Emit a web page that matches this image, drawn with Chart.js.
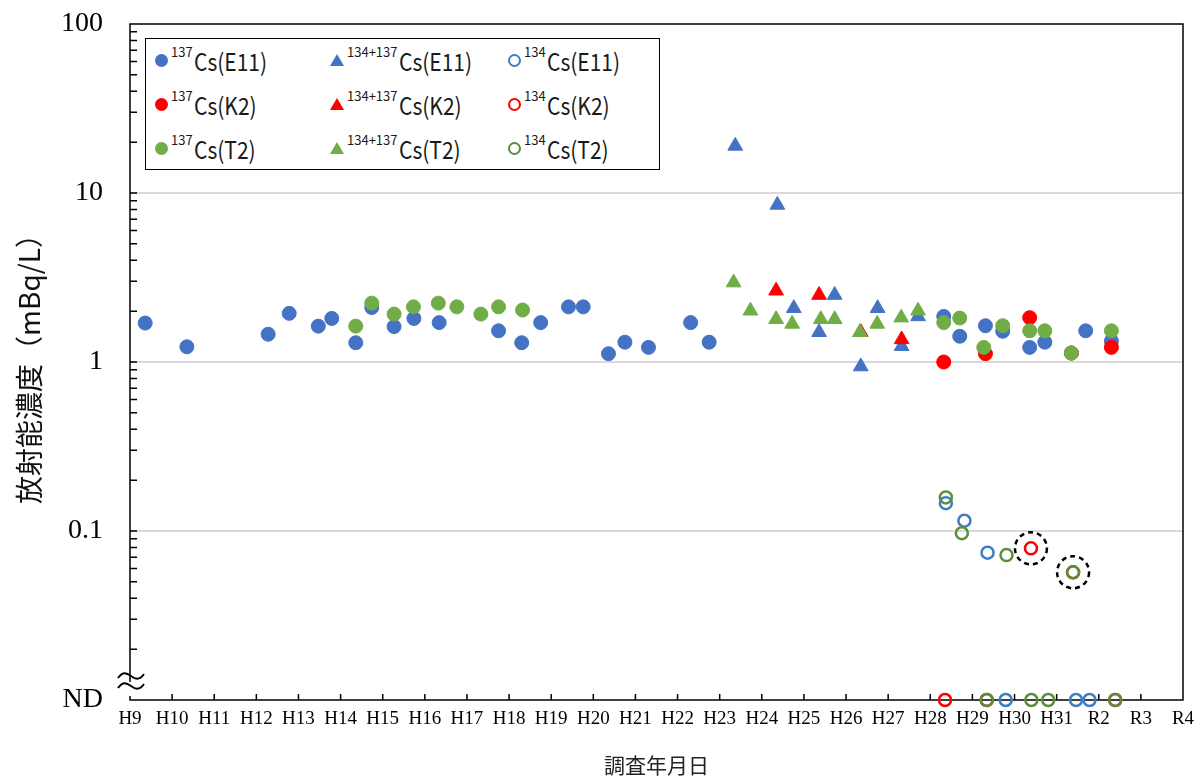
<!DOCTYPE html>
<html>
<head>
<meta charset="utf-8">
<script src="https://cdn.jsdelivr.net/npm/chart.js@4/dist/chart.umd.min.js"></script>
<style>
body{margin:0;background:#fff}
#wrap{position:relative;width:1203px;height:783px}
#lg{position:absolute;left:145px;top:38px;width:515px;height:132px;border:1.5px solid #000;background:#fff;box-sizing:border-box}
.it{position:absolute;height:26px;display:flex;align-items:center;font:21px 'Noto Sans CJK JP';color:#1a1a1a;white-space:nowrap}
.it .sp{font-size:13px;position:relative;top:-9px;margin:0 1px 0 3px}
.it .tx{display:inline-block;font-size:24px;transform:scaleX(.875);transform-origin:left center}
.dot{width:13px;height:13px;border-radius:50%}
.tri{width:0;height:0;border-left:7px solid transparent;border-right:7px solid transparent;border-bottom:12px solid}
.ring{width:9px;height:9px;border-radius:50%;border:2.5px solid}
</style>
</head>
<body>
<div id="wrap">
  <canvas id="c" width="1203" height="783"></canvas>
  <div id="lg"></div>
</div>
<script>
const ND = 0.01;   // 検出下限未満はこの位置に描く
const years = ['H9','H10','H11','H12','H13','H14','H15','H16','H17','H18','H19','H20',
  'H21','H22','H23','H24','H25','H26','H27','H28','H29','H30','H31','R2','R3','R4'];

// [年度位置, mBq/L]
const cs137E11 = [[0.36,1.70],[1.35,1.23],[3.28,1.46],[3.78,1.94],[4.47,1.63],[4.79,1.81],[5.36,1.30],
  [5.74,2.10],[6.27,1.62],[6.74,1.81],[7.34,1.71],[8.75,1.53],[9.30,1.30],[9.75,1.71],[10.41,2.12],
  [10.76,2.12],[11.36,1.12],[11.75,1.31],[12.31,1.22],[13.31,1.71],[13.75,1.31],[19.32,1.86],
  [19.70,1.42],[20.31,1.64],[20.72,1.52],[21.36,1.22],[21.72,1.31],[22.35,1.13],[22.69,1.53],[23.30,1.33]];
const cs137K2 = [[19.32,1.00],[20.31,1.12],[21.36,1.83],[22.35,1.13],[23.30,1.22]];
const cs137T2 = [[5.36,1.63],[5.74,2.23],[6.27,1.92],[6.73,2.12],[7.32,2.23],[7.76,2.12],[8.33,1.92],
  [8.75,2.12],[9.32,2.03],[19.32,1.71],[19.70,1.82],[20.27,1.22],[20.72,1.64],[21.36,1.53],[21.72,1.53],
  [22.35,1.13],[23.30,1.53]];
const sumE11 = [[14.37,19.0],[15.37,8.5],[15.76,2.08],[16.36,1.50],[16.73,2.49],[17.35,0.94],[17.75,2.08],
  [18.32,1.24],[18.71,1.86]];
const sumK2 = [[15.34,2.64],[16.36,2.49],[17.35,1.50],[18.32,1.36]];
const sumT2 = [[14.33,2.95],[14.73,2.01],[15.34,1.79],[15.72,1.68],[16.40,1.79],[16.73,1.79],[17.33,1.50],
  [17.74,1.68],[18.31,1.83],[18.71,2.01]];
const cs134E11 = [[19.37,0.146],[19.81,0.115],[20.36,0.0744],[20.79,ND],[22.46,ND],[22.78,ND]];
const cs134K2 = [[19.35,ND],[20.34,ND],[21.39,0.079],[22.39,0.057],[23.39,ND]];
const cs134T2 = [[19.37,0.158],[19.75,0.097],[20.34,ND],[20.81,0.072],[21.40,ND],[21.80,ND],[22.39,0.057],[23.39,ND]];
const circled = [[21.39,0.079],[22.39,0.057]];

const yLabels = [0.01,0.1,1,10,100];

const BLUE='#4472C4', RED='#FF0000', GREEN='#70AD47';
const BLUE_R='#3F7DC5', GREEN_R='#5A8F3A';

const pts = a => a.map(p => ({x:p[0], y:p[1]}));
const dot = (label,data,col,order) => ({label, data:pts(data), pointStyle:'circle', pointRadius:7,
  backgroundColor:col, borderColor:col, borderWidth:1, order, clip:false});
const tri = (label,data,col,order) => ({label, data:pts(data), pointStyle:'triangle', pointRadius:8.5,
  backgroundColor:col, borderColor:col, borderWidth:1, order, clip:false});
const ring = (label,data,col,order) => ({label, data:pts(data), pointStyle:'circle', pointRadius:6,
  backgroundColor:'rgba(0,0,0,0)', borderColor:col, borderWidth:2.5, order, clip:false});

const frame = {
  id:'frame',
  beforeDatasetsDraw(chart){
    const {ctx, chartArea:a, scales:{x,y}} = chart;
    ctx.save();
    ctx.strokeStyle='#000'; ctx.lineWidth=1.5;
    ctx.beginPath();
    ctx.moveTo(a.left, a.bottom-18); ctx.lineTo(a.left, a.top); ctx.lineTo(a.right, a.top);
    ctx.lineTo(a.right, a.bottom); ctx.lineTo(a.left, a.bottom); ctx.lineTo(a.left, a.bottom-4);
    // y ticks (inside)
    for (let e=-2; e<2; e++) for (let m=1; m<10; m++) {
      const v = m*Math.pow(10,e);
      if (v===ND) continue;
      const py = y.getPixelForValue(v);
      ctx.moveTo(a.left, py); ctx.lineTo(a.left+7, py);
    }
    for (let i=1; i<years.length-1; i++) {
      const px = x.getPixelForValue(i);
      ctx.moveTo(px, a.bottom); ctx.lineTo(px, a.bottom-6);
    }
    ctx.stroke();
    // 波線（軸の省略）
    ctx.lineWidth=2;
    [a.bottom-24, a.bottom-14].forEach(yy => {
      const x0 = a.left-12;
      ctx.beginPath();
      ctx.moveTo(x0, yy+2);
      ctx.bezierCurveTo(x0+5, yy-5, x0+9, yy-3, x0+13, yy);
      ctx.bezierCurveTo(x0+17, yy+3, x0+21, yy+5, x0+26, yy-2);
      ctx.stroke();
    });
    ctx.restore();
  },
  afterDatasetsDraw(chart){
    const {ctx, scales:{x,y}} = chart;
    ctx.save();
    ctx.strokeStyle='#000'; ctx.lineWidth=2.5; ctx.setLineDash([5,4]);
    circled.forEach(p => {
      ctx.beginPath();
      ctx.arc(x.getPixelForValue(p[0]), y.getPixelForValue(p[1]), 16, 0, Math.PI*2);
      ctx.stroke();
    });
    ctx.restore();
  }
};

new Chart(document.getElementById('c'), {
  type:'scatter',
  data:{ datasets:[
    dot('137Cs(E11)', cs137E11, BLUE, 3),
    dot('137Cs(K2)', cs137K2, RED, 2),
    dot('137Cs(T2)', cs137T2, GREEN, 1),
    tri('134+137Cs(E11)', sumE11, BLUE, 3),
    tri('134+137Cs(K2)', sumK2, RED, 2),
    tri('134+137Cs(T2)', sumT2, GREEN, 1),
    ring('134Cs(E11)', cs134E11, BLUE_R, 3),
    ring('134Cs(K2)', cs134K2, RED, 2),
    ring('134Cs(T2)', cs134T2, GREEN_R, 1)
  ]},
  options:{
    responsive:false, animation:false, devicePixelRatio:1, events:[],
    layout:{ padding:{top:24, right:20, bottom:0, left:0} },
    plugins:{ legend:{display:false}, tooltip:{enabled:false} },
    scales:{
      x:{ type:'linear', min:0, max:years.length-1,
        afterFit:s=>{ s.height=83; },
        grid:{display:false, drawTicks:false}, border:{display:false},
        ticks:{ stepSize:1, autoSkip:false, maxRotation:0, padding:8, color:'#000',
          font:{family:'Liberation Serif', size:19}, callback:v=>years[v] },
        title:{ display:true, text:'調査年月日', color:'#222', padding:{top:0,bottom:5},
          font:{family:"'Noto Sans CJK JP'", size:21} }
      },
      y:{ type:'logarithmic', min:ND, max:100,
        afterFit:s=>{ s.width=130; s.paddingTop=0; s.paddingBottom=0; },
        afterBuildTicks:s=>{ s.ticks = yLabels.map(v=>({value:v})); },
        grid:{ drawTicks:false, lineWidth:2,
          color:c=> (c.tick && c.tick.value>ND && c.tick.value<100) ? '#d9d9d9' : 'rgba(0,0,0,0)' },
        border:{display:false},
        ticks:{ padding:27, color:'#000', font:{family:'Liberation Serif', size:28},
          callback:v=> v===ND ? 'ND' : String(v) },
        title:{ display:true, text:'放射能濃度（mBq/L）', color:'#111', padding:{top:13,bottom:0},
          font:{family:"'Noto Sans CJK JP'", size:28} }
      }
    }
  },
  plugins:[frame]
});

// 凡例
const legendItems = [
  ['dot',BLUE,'137','Cs(E11)'], ['tri',BLUE,'134+137','Cs(E11)'], ['ring',BLUE_R,'134','Cs(E11)'],
  ['dot',RED,'137','Cs(K2)'],   ['tri',RED,'134+137','Cs(K2)'],   ['ring',RED,'134','Cs(K2)'],
  ['dot',GREEN,'137','Cs(T2)'], ['tri',GREEN,'134+137','Cs(T2)'], ['ring',GREEN_R,'134','Cs(T2)']
];
const colX = [9, 184, 362], rowY = [8, 52, 96];
document.getElementById('lg').innerHTML = legendItems.map((it,i) => {
  const st = it[0]==='tri' ? `border-bottom-color:${it[1]}` : it[0]==='dot' ? `background:${it[1]}` : `border-color:${it[1]}`;
  return `<div class="it" style="left:${colX[i%3]}px;top:${rowY[Math.floor(i/3)]}px">
    <span class="${it[0]}" style="${st}"></span><span class="sp">${it[2]}</span><span class="tx">${it[3]}</span></div>`;
}).join('');
</script>
</body>
</html>
